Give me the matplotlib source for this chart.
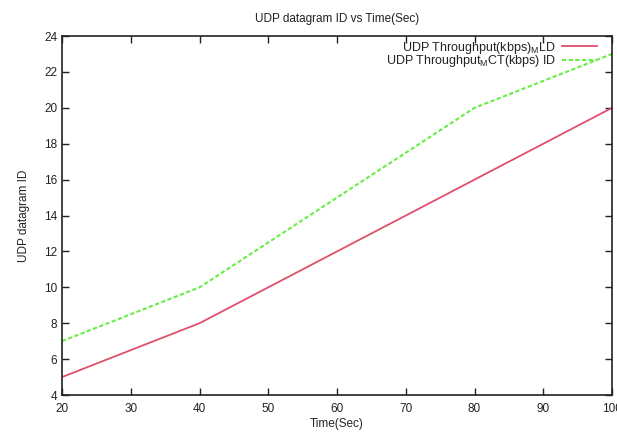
import matplotlib
matplotlib.use("Agg")
import matplotlib.pyplot as plt

time_sec = [20, 40, 60, 80, 100]
mld = [5, 8, 12, 16, 20]
mct = [7, 10, 15, 20, 23]
xticks = [20, 30, 40, 50, 60, 70, 80, 90, 100]
yticks = [4, 6, 8, 10, 12, 14, 16, 18, 20, 22, 24]

plt.rcParams['font.family'] = ['Liberation Sans', 'DejaVu Sans']
plt.rcParams['mathtext.fontset'] = 'custom'
plt.rcParams['mathtext.rm'] = 'Liberation Sans'

fig = plt.figure(figsize=(6.17, 4.32), dpi=100)
ax = fig.add_axes([0.1005, 0.0856, 0.8915, 0.831])

ax.plot(time_sec, mld, color='#e0506a', lw=1.3, label=r'UDP Throughput(kbps)$_{\mathrm{M}}$LD')
ax.plot(time_sec, mct, color='#66ee44', lw=1.5, ls=(0, (2, 1.2)),
        label=r'UDP Throughput$_{\mathrm{M}}$CT(kbps) ID')

ax.set_xlim(20, 100)
ax.set_ylim(4, 24)
ax.set_xticks(xticks)
ax.set_yticks(yticks)
ax.tick_params(direction='in', top=True, right=True, length=5, width=1, labelsize=8.5, colors='#222222')
ax.tick_params(axis='x', pad=6)
for s in ax.spines.values():
    s.set_linewidth(1.2)
    s.set_color('#222222')

ax.set_title('UDP datagram ID vs Time(Sec)', fontsize=8.5, pad=10, color='#222222')
ax.set_xlabel('Time(Sec)', fontsize=8.5, labelpad=2, color='#222222')
ax.set_ylabel('UDP datagram ID', fontsize=8.5, labelpad=10, color='#222222')

leg = ax.legend(loc='upper right', bbox_to_anchor=(0.973, 0.99), frameon=False,
                markerfirst=False, fontsize=9,
                handlelength=2.8, borderaxespad=0, borderpad=0,
                labelspacing=-0.2, handletextpad=0.5)
for t in leg.get_texts():
    t.set_ha('right')
    t.set_color('#222222')

fig.savefig('out.png', dpi=100)
